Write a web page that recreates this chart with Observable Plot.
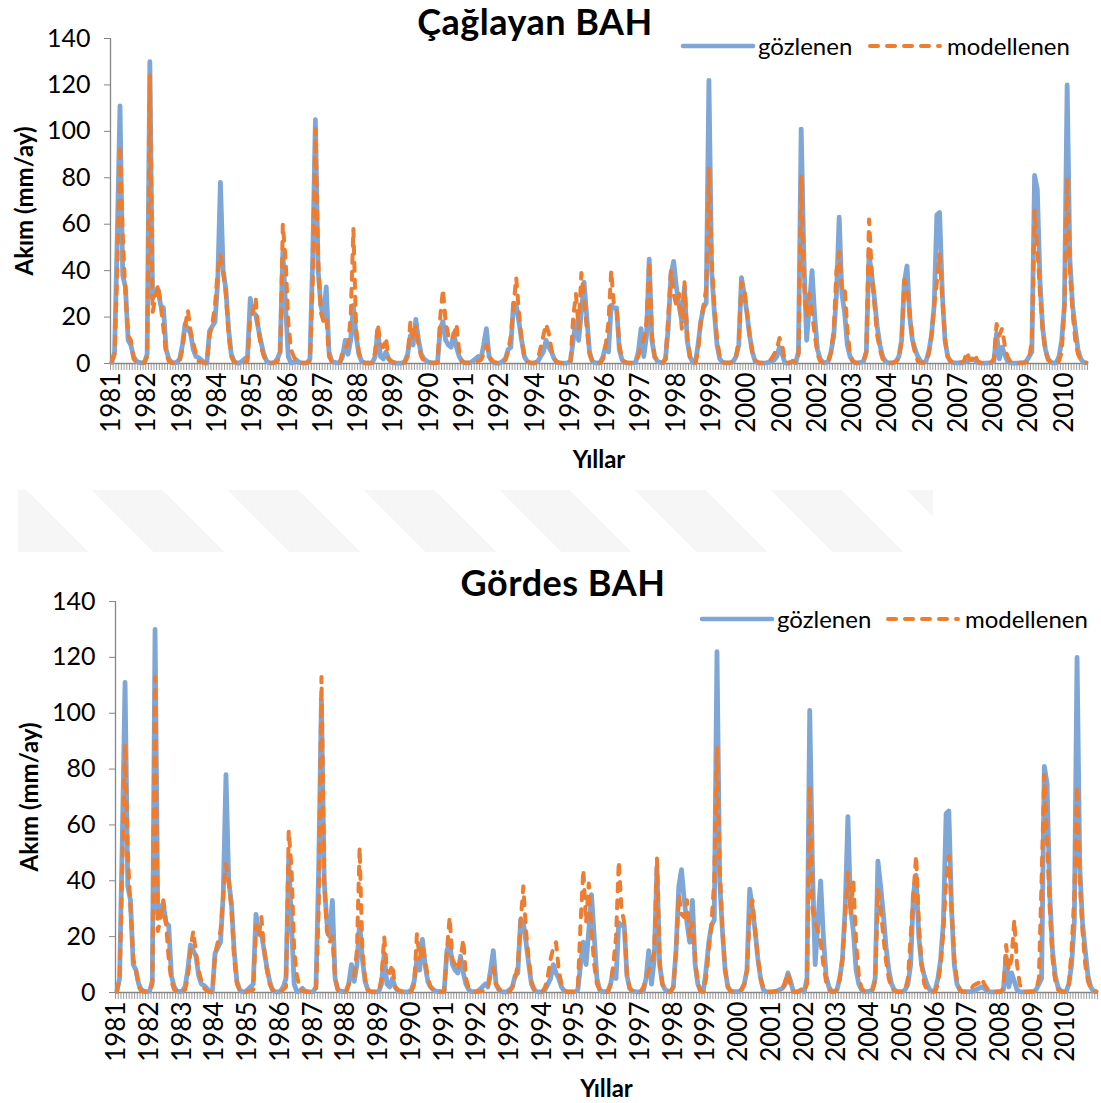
<!DOCTYPE html>
<html>
<head>
<meta charset="utf-8">
<script src="https://cdn.jsdelivr.net/npm/d3@7"></script>
<script src="https://cdn.jsdelivr.net/npm/@observablehq/plot@0.6"></script>
<style>
  html, body { margin: 0; padding: 0; background: #fff; }
  body { width: 1101px; height: 1103px; position: relative; overflow: hidden;
         font-family: Lato, "Open Sans", sans-serif; color: #000; }
  .chart { position: absolute; left: 0; }
  .title { position: absolute; font-weight: bold; font-size: 36px; line-height: 1.2; letter-spacing: 0.5px;
           white-space: nowrap; transform: translateX(-50%); }
  .lg-text { position: absolute; font-size: 24px; line-height: 1; white-space: nowrap; }
  .lg-sw { position: absolute; display: block; }
  .wm { position: absolute; left: 18px; top: 490px; width: 915px; height: 62px;
        background: repeating-linear-gradient(45deg, #f6f6f6 0 50px, rgba(255,255,255,0) 50px 96px); }
</style>
</head>
<body>
<div class="wm"></div>
<div id="c1" class="chart" style="top:0px"></div>
<div id="c2" class="chart" style="top:560px"></div>

<div class="title" style="left:535px;top:0px">Çağlayan BAH</div>
<svg class="lg-sw" style="left:680px;top:40px" width="76" height="12"><line x1="3" y1="6" x2="73" y2="6" stroke="#7EA6D6" stroke-width="4.5" stroke-linecap="round"/></svg>
<div class="lg-text" style="left:758px;top:34px">gözlenen</div>
<svg class="lg-sw" style="left:867px;top:40px" width="76" height="12"><line x1="3" y1="6" x2="73" y2="6" stroke="#ED7D31" stroke-width="4" stroke-dasharray="8,9" stroke-linecap="round"/></svg>
<div class="lg-text" style="left:947px;top:34px">modellenen</div>

<div class="title" style="left:563px;top:561px">Gördes BAH</div>
<svg class="lg-sw" style="left:699px;top:613px" width="76" height="12"><line x1="3" y1="6" x2="73" y2="6" stroke="#7EA6D6" stroke-width="4.5" stroke-linecap="round"/></svg>
<div class="lg-text" style="left:777px;top:607px">gözlenen</div>
<svg class="lg-sw" style="left:885px;top:613px" width="76" height="12"><line x1="3" y1="6" x2="73" y2="6" stroke="#ED7D31" stroke-width="4" stroke-dasharray="8,9" stroke-linecap="round"/></svg>
<div class="lg-text" style="left:965px;top:607px">modellenen</div>

<script>
// Monthly runoff (mm/ay), 360 months starting 1981
const observed = [
  0.5, 5, 55, 111, 38, 33, 10, 8, 3, 1, 0.5, 0.3,
  0.5, 4, 130, 28, 30, 32, 25, 24, 6, 2, 0.5, 0.3,
  0.5, 2, 8, 17, 15, 13, 6, 3, 2.5, 1.5, 0.3, 0.2,
  14, 16, 18, 35, 78, 40, 32, 15, 4, 1, 0.3, 0.2,
  1, 2, 3, 28, 22, 21, 15, 9, 4, 1, 0.3, 0.2,
  0.5, 2, 5, 48, 25, 3, 0.3, 0.5, 1.5, 0.5, 0.3, 0.2,
  0.3, 2, 45, 105, 40, 25, 20, 33, 5, 1, 0.5, 0.3,
  0.3, 3, 10, 4, 10, 25, 12, 4, 1, 0.3, 0.2, 0.2,
  0.3, 3, 14, 3, 2, 5, 2, 0.5, 0.3, 0.2, 0.2, 0.2,
  1, 4, 12, 8, 19, 10, 4, 2, 1, 0.5, 0.3, 0.3,
  0.5, 15, 18, 10, 8, 7, 13, 7, 3, 1, 0.3, 0.3,
  0.3, 1, 2, 3, 2, 8, 15, 3, 1, 0.3, 0.2, 0.2,
  1, 2, 6, 7, 26, 25, 18, 10, 3, 1, 0.3, 0.2,
  0.3, 1, 3, 5, 10, 7, 5, 2, 0.5, 0.3, 0.2, 0.2,
  0.3, 1, 10, 18, 10, 22, 35, 20, 5, 1, 0.3, 0.3,
  0.3, 3, 8, 5, 25, 24, 24, 6, 1.5, 0.5, 0.3, 0.2,
  0.3, 0.5, 5, 15, 3, 12, 45, 10, 3, 1, 0.5, 0.3,
  2, 15, 38, 44, 33, 25, 18, 33, 10, 3, 0.5, 0.3,
  8, 18, 24, 26, 122, 40, 22, 8, 2, 0.5, 0.3, 0.3,
  0.3, 1, 3, 8, 37, 30, 22, 12, 5, 1, 0.3, 0.2,
  0.2, 0.3, 0.5, 1, 1.5, 3, 7, 4, 0.3, 0.2, 0.3, 1,
  0.3, 5, 101, 45, 10, 25, 40, 20, 6, 2, 0.5, 0.3,
  1, 5, 12, 30, 63, 30, 22, 8, 3, 1, 0.3, 0.3,
  0.5, 1, 5, 47, 38, 28, 16, 8, 3, 1, 0.3, 0.3,
  0.3, 1, 3, 10, 35, 42, 20, 10, 6, 3, 1, 0.3,
  1, 5, 12, 25, 64, 65, 30, 10, 3, 1, 0.3, 0.3,
  0.3, 0.3, 0.5, 1, 1.5, 2, 1.5, 0.5, 0.3, 0.2, 0.2, 0.3,
  0.3, 1, 13, 2, 7, 4, 1, 0.3, 0.2, 0.2, 0.2, 0.3,
  0.3, 1, 3, 5, 81, 75, 35, 15, 6, 2, 0.5, 0.3,
  0.3, 3, 10, 25, 120, 45, 25, 15, 6, 2, 0.5, 0.3
];

const modelledCaglayan = [
  1, 4, 40, 94, 55, 30, 12, 10, 2, 0.5, 0.3, 0.3,
  0.3, 3, 124, 22, 28, 34, 25, 15, 4, 1, 0.3, 0.3,
  0.3, 1, 6, 16, 23, 14, 9, 4, 1, 0.5, 0.3, 0.3,
  12, 17, 25, 40, 47, 40, 30, 12, 3, 0.5, 0.3, 0.3,
  0.3, 0.5, 1, 20, 22, 28, 14, 7, 3, 1, 0.3, 0.3,
  0.3, 1, 3, 60, 45, 18, 6, 3, 1, 0.3, 0.3, 0.3,
  0.3, 1, 35, 101, 45, 22, 18, 20, 3, 1, 0.5, 0.3,
  0.3, 5, 7, 8, 20, 58, 15, 5, 1, 0.3, 0.3, 0.3,
  0.3, 5, 17, 8, 7, 11, 2, 1, 0.5, 0.3, 0.3, 0.3,
  0.3, 3, 18, 10, 16, 8, 3, 1, 0.5, 0.3, 0.3, 0.3,
  0.3, 20, 32, 18, 12, 10, 12, 17, 5, 1, 0.3, 0.3,
  0.3, 0.3, 0.5, 1, 1.5, 4, 8, 3, 1.5, 0.5, 0.3, 0.3,
  0.3, 1.5, 5, 12, 25, 37, 22, 10, 3, 1, 0.3, 0.3,
  0.3, 2, 7, 12, 17, 13, 6, 2, 0.5, 0.3, 0.3, 0.3,
  0.3, 1, 20, 30, 15, 39, 28, 15, 4, 1, 0.3, 0.3,
  0.3, 2, 8, 18, 40, 25, 23, 8, 2, 0.5, 0.3, 0.3,
  0.3, 1, 3, 8, 10, 18, 44, 12, 3, 1, 0.3, 0.3,
  2, 20, 40, 30, 25, 30, 15, 35, 12, 3, 0.5, 0.3,
  5, 18, 25, 32, 84, 45, 25, 10, 3, 0.7, 0.3, 0.3,
  0.3, 1, 3, 10, 35, 33, 22, 12, 5, 1.5, 0.5, 0.3,
  0.3, 0.5, 1, 2, 4, 6, 11, 8, 1, 0.3, 0.5, 1,
  0.3, 3, 81, 35, 20, 30, 22, 12, 4, 1, 0.3, 0.3,
  0.5, 5, 15, 40, 48, 32, 33, 15, 4, 1, 0.3, 0.3,
  0.3, 1, 5, 62, 40, 25, 12, 6, 2, 0.5, 0.3, 0.3,
  0.3, 1, 2, 10, 36, 33, 22, 10, 4, 1, 0.3, 0.3,
  0.5, 4, 12, 25, 35, 47, 28, 10, 3, 1, 0.5, 0.3,
  0.5, 0.5, 1, 5, 2, 1.5, 4, 1, 0.3, 0.3, 0.3, 0.3,
  0.5, 2, 17, 12, 15, 8, 3, 1, 0.3, 0.3, 0.3, 0.3,
  0.3, 0.5, 2, 10, 66, 50, 30, 14, 5, 1.5, 0.5, 0.3,
  0.3, 1, 5, 25, 80, 40, 22, 10, 4, 1.5, 0.5, 0.3
];

const modelledGordes = [
  0.3, 5, 45, 89, 50, 30, 12, 8, 2, 0.5, 0.3, 0.3,
  0.3, 3, 113, 22, 26, 33, 25, 12, 4, 1, 0.3, 0.3,
  0.3, 1, 5, 15, 22, 14, 8, 4, 1.5, 0.5, 0.3, 0.3,
  14, 18, 22, 35, 46, 40, 30, 12, 3, 1, 0.3, 0.3,
  0.3, 0.5, 1, 24, 20, 27, 15, 8, 3, 1, 0.3, 0.3,
  0.3, 1, 2, 58, 45, 15, 6, 2, 0.5, 0.3, 0.3, 0.3,
  0.3, 1, 30, 113, 40, 22, 18, 20, 5, 1, 0.5, 0.3,
  0.3, 3, 5, 6, 15, 52, 15, 5, 1, 0.3, 0.3, 0.3,
  0.3, 5, 20, 8, 7, 10, 2, 1, 0.5, 0.3, 0.3, 0.3,
  0.3, 3, 21, 12, 17, 12, 5, 2, 1, 0.3, 0.3, 0.3,
  0.3, 15, 27, 12, 10, 8, 12, 19, 5, 1.5, 0.5, 0.3,
  0.3, 0.3, 0.5, 1, 2, 6, 9, 3, 1.5, 0.5, 0.3, 0.3,
  0.3, 2, 5, 10, 25, 38, 22, 12, 4, 1, 0.3, 0.3,
  0.3, 2, 6, 12, 16, 18, 8, 3, 1, 0.3, 0.3, 0.3,
  0.3, 2, 25, 44, 25, 39, 22, 10, 3, 1, 0.3, 0.3,
  0.3, 3, 10, 20, 47, 30, 25, 6, 1.5, 0.5, 0.3, 0.3,
  0.3, 2, 5, 8, 10, 15, 48, 10, 3, 1, 0.3, 0.3,
  2, 15, 35, 28, 27, 33, 20, 25, 12, 3, 0.5, 0.3,
  5, 15, 25, 40, 88, 45, 22, 8, 2, 0.5, 0.3, 0.3,
  0.3, 1, 3, 8, 28, 33, 22, 12, 5, 1.5, 0.5, 0.3,
  0.3, 0.5, 0.5, 0.5, 1, 4, 7, 2, 0.3, 0.3, 0.5, 1,
  0.3, 3, 74, 30, 25, 22, 18, 10, 4, 1, 0.3, 0.3,
  1, 5, 12, 28, 43, 28, 40, 18, 6, 1.5, 0.5, 0.3,
  0.3, 1, 4, 37, 30, 20, 11, 5, 1.5, 0.5, 0.3, 0.3,
  0.3, 1, 5, 20, 35, 49, 25, 10, 3, 1, 0.3, 0.3,
  0.3, 3, 10, 22, 40, 49, 30, 12, 4, 1, 0.3, 0.3,
  0.5, 1, 2.5, 3, 3.5, 5, 3, 1.5, 0.5, 0.3, 0.3, 0.3,
  0.3, 1.5, 17, 8, 12, 26, 10, 3, 0.5, 0.3, 0.3, 0.3,
  0.3, 1, 5, 40, 78, 55, 30, 12, 4, 1, 0.3, 0.3,
  0.3, 3, 15, 35, 74, 40, 22, 10, 4, 1.5, 0.5, 0.3
];

// Category-axis tick labels (Excel showed every 13th month on the first chart, every 12th on the second)
const caglayanTickLabels = ["1981","1982","1983","1984","1985","1986","1987","1988","1989","1990","1991","1992",
  "1994","1995","1996","1997","1998","1999","2000","2001","2002","2003","2004","2005","2007","2008","2009","2010"];
const caglayanTickStep = 13;
const gordesTickLabels = ["1981","1982","1983","1984","1985","1986","1987","1988","1989","1990","1991","1992","1993",
  "1994","1995","1996","1997","1998","1999","2000","2001","2002","2003","2004","2005","2006","2007","2008","2009","2010"];
const gordesTickStep = 12;
const yTicks = [0, 20, 40, 60, 80, 100, 120, 140];

const xDomain = [-0.5, observed.length - 0.5];

function chart({modelled, tickLabels, tickStep, height, mt, mb, ml, mr, yLabelDx}) {
  const rows = observed.map((v, i) => ({i, observed: v, modelled: modelled[i]}));
  const tickIdx = tickLabels.map((_, k) => k * tickStep);
  const labelOf = new Map(tickIdx.map((t, k) => [t, tickLabels[k]]));
  const bounds = d3.range(observed.length + 1).map(d => d - 0.5);
  return Plot.plot({
    width: 1101, height,
    marginTop: mt, marginBottom: mb, marginLeft: ml, marginRight: mr,
    style: {fontFamily: "Lato, 'Open Sans', sans-serif", fontSize: "22px", color: "#000",
            background: "transparent", overflow: "visible"},
    x: {domain: xDomain},
    y: {domain: [0, 140]},
    marks: [
      Plot.axisY(yTicks, {tickSize: 6, tickPadding: 14, stroke: "#868686", fill: "#000", fontSize: 25, label: null}),
      Plot.ruleX([xDomain[0]], {stroke: "#868686", strokeWidth: 1.3}),
      Plot.axisX(bounds, {tickSize: 7, stroke: "#9b9b9b", fill: "none", label: null}),
      Plot.axisX(tickIdx, {tickSize: 0, tickPadding: 9, tickRotate: -90, tickFormat: d => labelOf.get(d),
                           fill: "#000", fontSize: 26, label: null}),
      Plot.ruleY([0], {stroke: "#868686", strokeWidth: 1.3}),
      Plot.line(rows, {x: "i", y: "observed", stroke: "#7EA6D6", strokeWidth: 4.8,
                       strokeLinejoin: "round", strokeLinecap: "round"}),
      Plot.line(rows, {x: "i", y: "modelled", stroke: "#ED7D31", strokeWidth: 4,
                       strokeDasharray: "8,9", strokeLinecap: "round", strokeLinejoin: "round"}),
      Plot.text(["Akım (mm/ay)"], {text: d => d, frameAnchor: "left", textAnchor: "middle", dx: yLabelDx,
                                   rotate: -90, fontWeight: "bold", fontSize: 24, fill: "#000"}),
      Plot.text(["Yıllar"], {text: d => d, frameAnchor: "bottom", dy: 104,
                             fontWeight: "bold", fontSize: 24, fill: "#000"})
    ]
  });
}

document.getElementById("c1").append(chart({
  modelled: modelledCaglayan, tickLabels: caglayanTickLabels, tickStep: caglayanTickStep,
  height: 480, mt: 38, mb: 117, ml: 110, mr: 14, yLabelDx: -85
}));
document.getElementById("c2").append(chart({
  modelled: modelledGordes, tickLabels: gordesTickLabels, tickStep: gordesTickStep,
  height: 543, mt: 41, mb: 111, ml: 115, mr: 4, yLabelDx: -85
}));
</script>
</body>
</html>
